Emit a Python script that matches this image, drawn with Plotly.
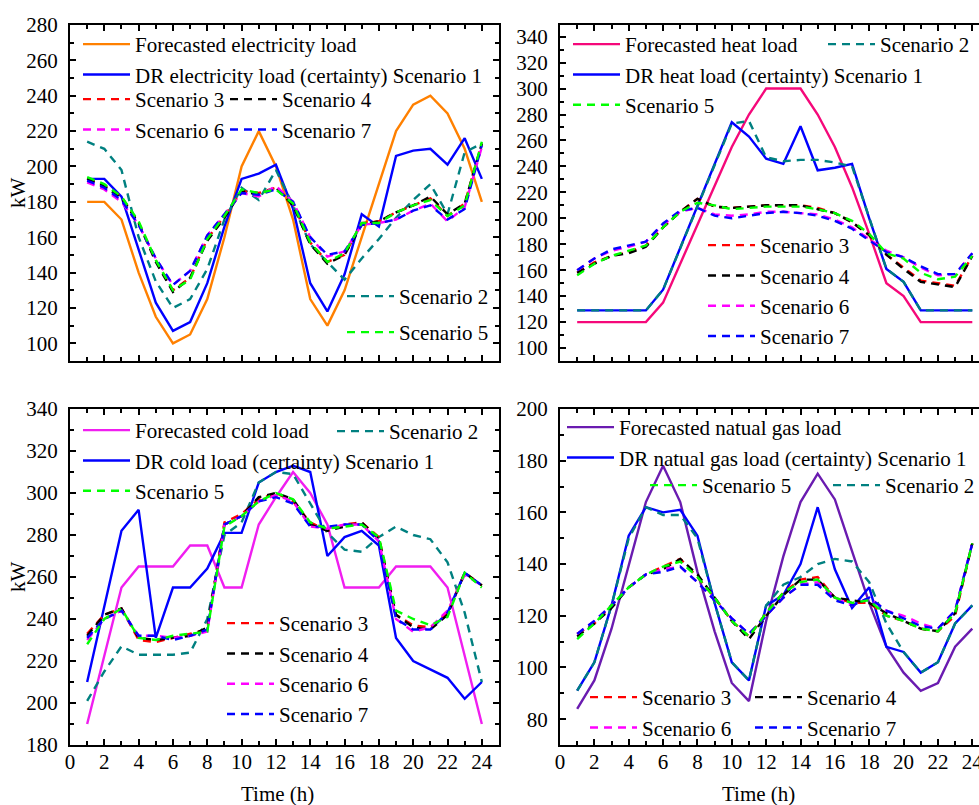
import plotly.graph_objects as go

# ---------------------------------------------------------------- data
hours = list(range(1, 25))
x_ticks = list(range(0, 25, 2))

# electricity load (kW)
elec_forecast = [180, 180, 170, 140, 115, 100, 105, 125, 160, 200, 220, 200,
                 170, 125, 110, 130, 160, 190, 220, 235, 240, 230, 210, 180]
elec_s1 = [193, 193, 183, 153, 123, 107, 112, 134, 166, 193, 196, 201,
           176, 134, 118, 139, 173, 166, 206, 209, 210, 201, 216, 193]
elec_s2 = [214, 210, 198, 160, 135, 120, 125, 142, 170, 188, 181, 198,
           178, 156, 146, 136, 148, 159, 171, 181, 190, 173, 208, 213]
elec_s3 = [193, 189, 183, 168, 147, 130, 137, 159, 172, 186, 185, 188,
           179, 157, 146, 150, 168, 169, 174, 178, 182, 172, 179, 213]
elec_s4 = [193, 189, 182, 168, 146, 129, 137, 158, 171, 186, 184, 188,
           178, 156, 145, 150, 167, 169, 174, 178, 183, 173, 179, 213]
elec_s5 = [194, 190, 183, 169, 147, 130, 136, 159, 172, 187, 185, 187,
           179, 157, 146, 151, 168, 168, 174, 178, 181, 172, 178, 214]
elec_s6 = [191, 187, 180, 167, 148, 133, 141, 161, 173, 185, 183, 189,
           180, 160, 149, 152, 167, 168, 170, 175, 179, 169, 177, 211]
elec_s7 = [192, 188, 181, 167, 148, 133, 141, 161, 173, 185, 184, 187,
           180, 160, 150, 152, 167, 168, 170, 175, 178, 170, 176, 212]

# heat load (kW)
heat_forecast = [120, 120, 120, 120, 120, 135, 165, 195, 225, 255, 280, 300,
                 300, 300, 280, 255, 224, 188, 150, 140, 120, 120, 120, 120]
heat_s1 = [129, 129, 129, 129, 129, 145, 177, 209, 241, 274, 263, 246,
           242, 271, 237, 239, 242, 200, 161, 151, 129, 129, 129, 129]
heat_s2 = [129, 129, 129, 129, 129, 145, 177, 209, 241, 273, 275, 247,
           244, 245, 245, 243, 240, 200, 161, 151, 129, 129, 129, 129]
heat_s3 = [158, 166, 171, 174, 179, 193, 205, 215, 209, 208, 209, 210,
           210, 210, 208, 204, 197, 187, 172, 162, 152, 150, 148, 171]
heat_s4 = [158, 165, 171, 173, 178, 193, 205, 215, 209, 208, 209, 210,
           210, 210, 207, 204, 197, 187, 172, 161, 151, 149, 147, 171]
heat_s5 = [156, 165, 171, 175, 179, 193, 205, 212, 210, 207, 208, 209,
           209, 209, 207, 204, 198, 188, 173, 169, 158, 153, 155, 171]
heat_s6 = [160, 169, 175, 178, 182, 195, 205, 208, 203, 202, 203, 205,
           205, 204, 203, 199, 193, 184, 175, 170, 162, 156, 157, 173]
heat_s7 = [160, 169, 176, 179, 182, 196, 206, 208, 202, 200, 202, 204,
           205, 204, 202, 198, 192, 183, 174, 170, 163, 157, 157, 173]

# cold load (kW)
cold_forecast = [190, 222, 255, 265, 265, 265, 275, 275, 255, 255, 285, 298,
                 310, 300, 285, 255, 255, 255, 265, 265, 265, 255, 223, 190]
cold_s1 = [210, 246, 282, 292, 231, 255, 255, 264, 281, 281, 305, 310,
           313, 310, 270, 279, 282, 275, 231, 220, 216, 212, 202, 210]
cold_s2 = [201, 215, 227, 223, 223, 223, 224, 240, 280, 286, 305, 310,
           309, 295, 281, 273, 272, 279, 284, 280, 278, 267, 243, 210]
cold_s3 = [233, 242, 245, 230, 229, 231, 233, 235, 286, 290, 297, 300,
           296, 286, 282, 285, 286, 279, 242, 237, 236, 243, 262, 256]
cold_s4 = [232, 242, 245, 231, 230, 231, 232, 236, 285, 289, 298, 300,
           297, 285, 282, 284, 286, 278, 242, 236, 235, 242, 262, 256]
cold_s5 = [228, 240, 245, 231, 230, 232, 233, 234, 284, 289, 296, 300,
           297, 286, 283, 284, 285, 279, 244, 240, 237, 241, 262, 255]
cold_s6 = [230, 240, 244, 232, 232, 231, 232, 234, 285, 289, 296, 299,
           296, 284, 283, 285, 285, 277, 240, 234, 236, 244, 261, 256]
cold_s7 = [231, 240, 244, 232, 232, 230, 232, 235, 285, 289, 296, 298,
           295, 284, 284, 285, 285, 277, 240, 235, 235, 243, 262, 256]

# natural gas load (kW)
gas_forecast = [84, 95, 115, 139, 164, 178, 164, 137, 114, 94, 87, 118,
                143, 164, 175, 165, 145, 125, 108, 98, 91, 94, 108, 115]
gas_s1 = [91, 102, 124, 151, 162, 160, 161, 151, 125, 102, 95, 124,
          128, 140, 162, 138, 123, 131, 108, 106, 98, 102, 117, 124]
gas_s2 = [91, 102, 124, 150, 162, 159, 159, 150, 125, 102, 95, 124,
          132, 135, 140, 142, 141, 133, 117, 106, 98, 102, 117, 124]
gas_s3 = [113, 117, 124, 131, 136, 139, 142, 135, 127, 118, 112, 121,
          129, 134, 135, 127, 125, 125, 120, 118, 115, 114, 120, 148]
gas_s4 = [112, 117, 123, 131, 136, 138, 142, 136, 127, 118, 111, 120,
          128, 134, 134, 127, 126, 125, 121, 118, 115, 114, 121, 148]
gas_s5 = [111, 117, 124, 131, 136, 139, 141, 135, 127, 118, 112, 121,
          129, 133, 134, 127, 125, 126, 120, 118, 115, 114, 121, 148]
gas_s6 = [113, 118, 124, 131, 136, 138, 139, 133, 126, 119, 113, 120,
          127, 132, 133, 127, 124, 127, 122, 120, 117, 115, 122, 148]
gas_s7 = [113, 118, 124, 131, 136, 137, 139, 133, 126, 119, 113, 120,
          127, 132, 132, 126, 124, 127, 122, 119, 116, 115, 122, 148]

# ---------------------------------------------------------------- styling
W, H = 979, 805
FONT = "Liberation Serif"
FS = 21
DASH = "8px,6px"
LW = 2.4

scenario_style = {
    "s1": ("#0000FF", "solid"),
    "s2": ("#008080", DASH),
    "s3": ("#FF0000", DASH),
    "s4": ("#000000", DASH),
    "s5": ("#00FF00", DASH),
    "s6": ("#FF00FF", DASH),
    "s7": ("#0000FF", DASH),
}


def fx(p):
    return p / W


def fy(p):
    return 1 - p / H


panels = [
    dict(xa="x", ya="y", xdom=(70, 499), ydom=(25, 361), xrange=(0, 25),
         yrange=(90, 280), bottom=False, right_frame=True,
         forecast=("Forecasted electricity load", elec_forecast, "#FF8000"),
         s1_name="DR electricity load (certainty) Scenario 1",
         scen=dict(s2=elec_s2, s3=elec_s3, s4=elec_s4, s5=elec_s5, s6=elec_s6, s7=elec_s7),
         s1=elec_s1,
         legends={"legend": ((83, 44), ["fc", "s1"]),
                  "legend2": ((83, 99), ["s3", "s6"]),
                  "legend3": ((230, 99), ["s4", "s7"]),
                  "legend4": ((347, 296), ["s2"]),
                  "legend5": ((347, 332), ["s5"])}),
    dict(xa="x2", ya="y2", xdom=(560, 979), ydom=(25, 361), xrange=(0, 24.39),
         yrange=(90, 349), bottom=False, right_frame=False,
         forecast=("Forecasted heat load", heat_forecast, "#F5087A"),
         s1_name="DR heat load (certainty) Scenario 1",
         scen=dict(s2=heat_s2, s3=heat_s3, s4=heat_s4, s5=heat_s5, s6=heat_s6, s7=heat_s7),
         s1=heat_s1,
         legends={"legend6": ((573, 44), ["fc", "s1", "s5"]),
                  "legend7": ((828, 44), ["s2"]),
                  "legend8": ((708, 245), ["s3", "s4", "s6", "s7"])}),
    dict(xa="x3", ya="y3", xdom=(70, 499), ydom=(409, 745), xrange=(0, 25),
         yrange=(180, 340), bottom=True, right_frame=True,
         forecast=("Forecasted cold load", cold_forecast, "#F01EF0"),
         s1_name="DR cold load (certainty) Scenario 1",
         scen=dict(s2=cold_s2, s3=cold_s3, s4=cold_s4, s5=cold_s5, s6=cold_s6, s7=cold_s7),
         s1=cold_s1,
         legends={"legend9": ((83, 430), ["fc", "s1", "s5"]),
                  "legend10": ((337, 431), ["s2"]),
                  "legend11": ((227, 623), ["s3", "s4", "s6", "s7"])}),
    dict(xa="x4", ya="y4", xdom=(560, 979), ydom=(409, 745), xrange=(0, 24.39),
         yrange=(70, 200), bottom=True, right_frame=False,
         forecast=("Forecasted natual gas load", gas_forecast, "#6A1BB0"),
         s1_name="DR natual gas load (certainty) Scenario 1",
         scen=dict(s2=gas_s2, s3=gas_s3, s4=gas_s4, s5=gas_s5, s6=gas_s6, s7=gas_s7),
         s1=gas_s1,
         legends={"legend12": ((567, 427), ["fc", "s1"]),
                  "legend13": ((650, 485), ["s5"]),
                  "legend14": ((833, 485), ["s2"]),
                  "legend15": ((590, 697), ["s3", "s6"]),
                  "legend16": ((755, 697), ["s4", "s7"])}),
]

fig = go.Figure()
layout = dict(width=W, height=H,
              margin=dict(l=0, r=0, t=0, b=0, autoexpand=False),
              paper_bgcolor="white", plot_bgcolor="white",
              font=dict(family=FONT, size=FS, color="black"),
              annotations=[])

draw_order = ["fc", "s1", "s2", "s3", "s4", "s6", "s7", "s5"]

for i, p in enumerate(panels):
    owner = {}
    for lg, (_, keys) in p["legends"].items():
        for k in keys:
            owner[k] = lg
    for key in draw_order:
        if key == "fc":
            name, vals, color = p["forecast"]
            dash = "solid"
        elif key == "s1":
            name, vals = p["s1_name"], p["s1"]
            color, dash = scenario_style["s1"]
        else:
            name, vals = "Scenario " + key[1], p["scen"][key]
            color, dash = scenario_style[key]
        fig.add_trace(go.Scatter(
            x=hours, y=vals, mode="lines", name=name,
            line=dict(color=color, width=LW, dash=dash),
            xaxis=p["xa"], yaxis=p["ya"], legend=owner[key]))

    for lg, ((lx, ly), _) in p["legends"].items():
        layout[lg] = dict(x=fx(lx - 5), y=fy(ly - 20), xanchor="left", yanchor="top",
                          bgcolor="rgba(0,0,0,0)", borderwidth=0, itemwidth=47,
                          font=dict(family=FONT, size=FS, color="black"),
                          tracegroupgap=0)

    xname = "xaxis" if p["xa"] == "x" else "xaxis" + p["xa"][1:]
    yname = "yaxis" if p["ya"] == "y" else "yaxis" + p["ya"][1:]
    layout[xname] = dict(
        domain=[fx(p["xdom"][0]), fx(p["xdom"][1])], range=list(p["xrange"]),
        anchor=p["ya"], tickmode="array", tickvals=x_ticks,
        ticks="inside", ticklen=6, tickwidth=1.5, tickcolor="black",
        minor=dict(tickmode="linear", tick0=0, dtick=1, ticks="inside", ticklen=4,
                   tickwidth=1.5, tickcolor="black"),
        showticklabels=p["bottom"], ticklabelstandoff=-3, ticklabeloverflow="allow",
        showline=True, linewidth=2, linecolor="black", mirror="allticks",
        showgrid=False, zeroline=False,
        tickfont=dict(family=FONT, size=FS, color="black"))
    layout[yname] = dict(
        domain=[fy(p["ydom"][1]), fy(p["ydom"][0])], range=list(p["yrange"]),
        anchor=p["xa"], tickmode="linear", tick0=0, dtick=20,
        ticks="inside", ticklen=6, tickwidth=1.5, tickcolor="black",
        minor=dict(tickmode="linear", tick0=0, dtick=10, ticks="inside", ticklen=4,
                   tickwidth=1.5, tickcolor="black"),
        ticklabelstandoff=6, ticklabeloverflow="allow",
        showline=True, linewidth=2, linecolor="black",
        mirror="allticks" if p["right_frame"] else False,
        showgrid=False, zeroline=False,
        tickfont=dict(family=FONT, size=FS, color="black"))

# axis titles
for (tx, ty, text, angle) in [(18, 193, "kW", -90), (18, 577, "kW", -90),
                              (277, 794, "Time (h)", 0), (758, 794, "Time (h)", 0)]:
    layout["annotations"].append(dict(
        x=fx(tx), y=fy(ty), xref="paper", yref="paper", text=text, textangle=angle,
        showarrow=False, xanchor="center", yanchor="middle",
        font=dict(family=FONT, size=FS, color="black")))

fig.update_layout(**layout)
fig.write_html("out.html")
